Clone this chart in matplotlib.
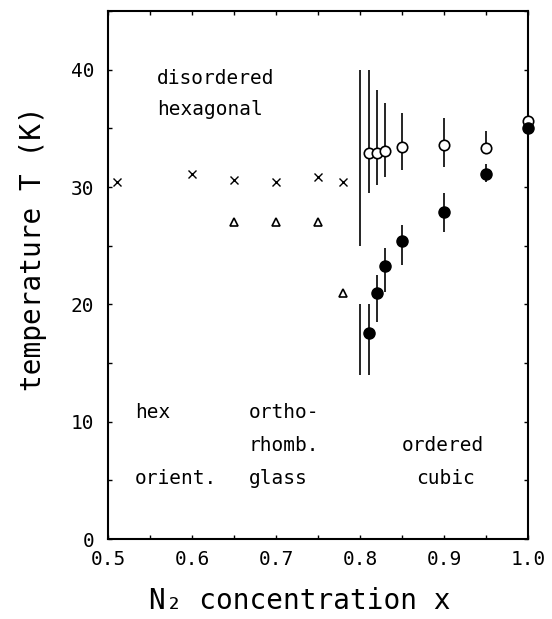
import matplotlib
matplotlib.use('Agg')
import matplotlib.pyplot as plt
from matplotlib.ticker import MultipleLocator

plt.rcParams['font.family'] = ['DejaVu Sans Mono', 'DejaVu Sans']

# hexagonal disordered -> orientational (crosses)
x_cross = [0.51, 0.60, 0.65, 0.70, 0.75, 0.78]
t_cross = [30.4, 31.1, 30.6, 30.4, 30.9, 30.4]

# glass transition (triangles)
x_tri = [0.65, 0.70, 0.75, 0.78]
t_tri = [27.0, 27.0, 27.0, 21.0]

# open circles (upper transition) with asymmetric error bars
x_open = [0.81, 0.82, 0.83, 0.85, 0.90, 0.95, 1.00]
t_open = [32.9, 32.9, 33.1, 33.4, 33.6, 33.3, 35.6]
t_open_lo = [29.5, 30.2, 30.9, 31.5, 31.7, 32.9, 35.6]
t_open_hi = [40.0, 38.3, 37.2, 36.3, 35.9, 34.8, 35.6]

# filled circles (lower transition)
x_full = [0.81, 0.82, 0.83, 0.85, 0.90, 0.95, 1.00]
t_full = [17.6, 21.0, 23.3, 25.4, 27.9, 31.1, 35.0]
t_full_lo = [14.0, 18.5, 21.1, 23.4, 26.2, 30.4, 35.0]
t_full_hi = [20.0, 22.5, 24.8, 26.8, 29.5, 32.0, 35.0]

# bare range bars at x = 0.80
x_bar = [0.80, 0.80]
bar_lo = [25.0, 14.0]
bar_hi = [40.0, 20.0]

fig = plt.figure(figsize=(5.52, 6.19), dpi=100)
ax = fig.add_axes([0.196, 0.129, 0.761, 0.853])

ax.vlines(x_bar, bar_lo, bar_hi, color='black', lw=1.2)

err_open = [[t - lo for t, lo in zip(t_open, t_open_lo)],
            [hi - t for t, hi in zip(t_open, t_open_hi)]]
ax.errorbar(x_open, t_open, yerr=err_open, fmt='o', mfc='white', mec='black',
            ms=7.5, mew=1.2, ecolor='black', elinewidth=1.2, capsize=0, clip_on=False, zorder=3)

err_full = [[t - lo for t, lo in zip(t_full, t_full_lo)],
            [hi - t for t, hi in zip(t_full, t_full_hi)]]
ax.errorbar(x_full, t_full, yerr=err_full, fmt='o', mfc='black', mec='black',
            ms=8, ecolor='black', elinewidth=1.2, capsize=0, clip_on=False, zorder=4)

ax.plot(x_cross, t_cross, 'x', color='black', ms=6, mew=1.0, ls='none')
ax.plot(x_tri, t_tri, '^', mfc='white', mec='black', ms=6, mew=1.2, ls='none')

fs = 14
ax.text(0.558, 39.3, 'disordered', fontsize=fs, va='center')
ax.text(0.558, 36.6, 'hexagonal', fontsize=fs, va='center')
ax.text(0.532, 10.8, 'hex', fontsize=fs, va='center')
ax.text(0.532, 5.2, 'orient.', fontsize=fs, va='center')
ax.text(0.667, 10.8, 'ortho-', fontsize=fs, va='center')
ax.text(0.667, 8.0, 'rhomb.', fontsize=fs, va='center')
ax.text(0.667, 5.2, 'glass', fontsize=fs, va='center')
ax.text(0.850, 8.0, 'ordered', fontsize=fs, va='center')
ax.text(0.866, 5.2, 'cubic', fontsize=fs, va='center')

ax.set_xlim(0.5, 1.0)
ax.set_ylim(0, 45)
ax.xaxis.set_major_locator(MultipleLocator(0.1))
ax.xaxis.set_minor_locator(MultipleLocator(0.05))
ax.yaxis.set_major_locator(MultipleLocator(10))
ax.yaxis.set_minor_locator(MultipleLocator(5))
ax.set_xticks([0.5, 0.6, 0.7, 0.8, 0.9, 1.0])
ax.set_xticklabels(['0.5', '0.6', '0.7', '0.8', '0.9', '1.0'])
ax.set_yticks([0, 10, 20, 30, 40])
ax.set_yticklabels(['0', '10', '20', '30', '40'])
ax.tick_params(which='both', direction='in', top=True, right=True, length=3, width=1.0,
               labelsize=14)
ax.tick_params(axis='x', pad=8)
ax.tick_params(axis='y', pad=10)
for sp in ax.spines.values():
    sp.set_linewidth(1.5)

ax.set_xlabel('N₂ concentration x', fontsize=20)
ax.set_ylabel('temperature T (K)', fontsize=20)
ax.xaxis.set_label_coords(0.457, -0.09)
ax.yaxis.set_label_coords(-0.145, 0.55)

plt.savefig('out.png', dpi=100)
